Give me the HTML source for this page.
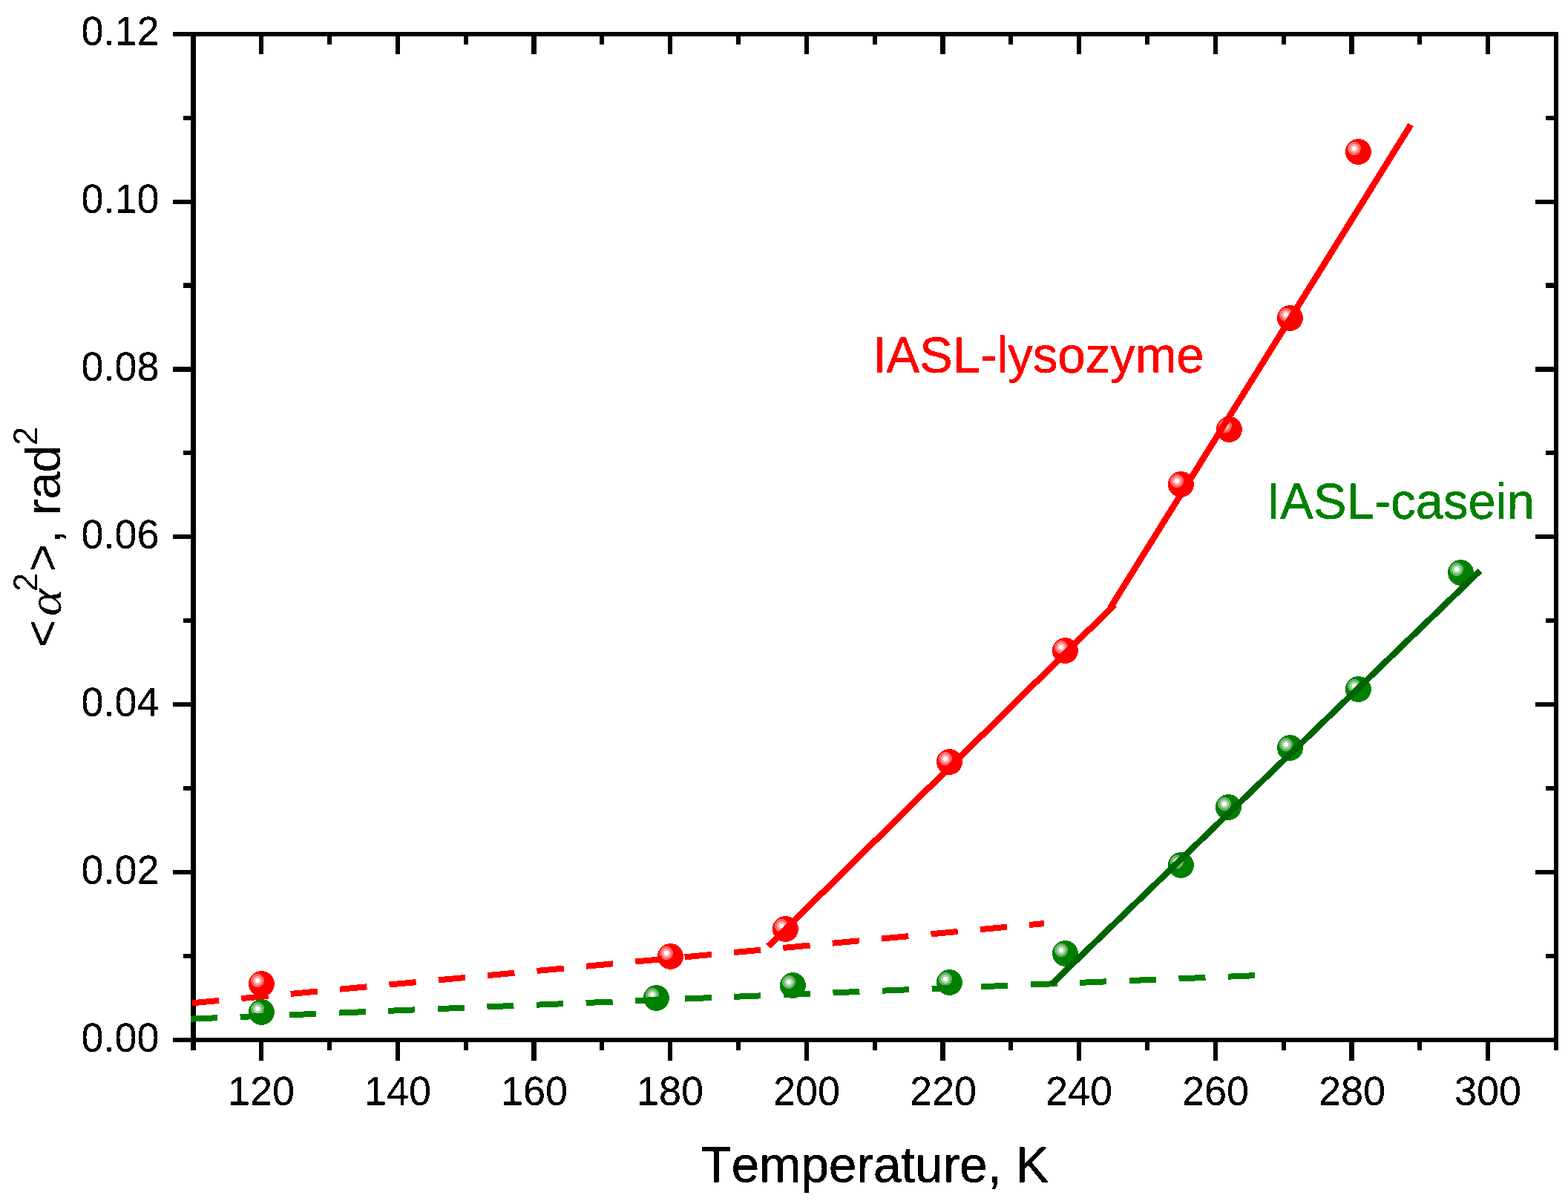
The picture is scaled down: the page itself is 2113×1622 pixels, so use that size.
<!DOCTYPE html>
<html lang="en"><head><meta charset="utf-8"><title>Mean-square angular amplitude vs temperature</title>
<style>
html,body{margin:0;padding:0;background:#fff;}
body{width:2113px;height:1622px;overflow:hidden;}
svg{display:block;}
text{font-family:"Liberation Sans",Arial,Helvetica,sans-serif;font-kerning:none;filter:url(#bin);}
.tk{font-size:54px;fill:#000;stroke:#000;stroke-width:0.2px;}
.tt{font-size:67px;fill:#000;}
.ax{fill:#000;shape-rendering:crispEdges;}
.al{font-family:"Liberation Serif","DejaVu Serif",serif;font-style:italic;}
</style></head><body>
<svg width="2113" height="1622" viewBox="0 0 2113 1622" role="img" aria-label="Mean-square angular amplitude versus temperature for IASL-lysozyme and IASL-casein">
<defs><filter id="bin" x="-5%" y="-30%" width="110%" height="160%" color-interpolation-filters="sRGB"><feComponentTransfer><feFuncA type="discrete" tableValues="0 1"/></feComponentTransfer></filter></defs>
<rect x="0" y="0" width="2113" height="1622" fill="#fff"/>
<g class="ax">
<rect x="233" y="43" width="1867" height="6"/>
<rect x="233" y="1398" width="1867" height="6"/>
<rect x="257" y="43" width="7" height="1372"/>
<rect x="2094" y="43" width="6" height="1372"/>
<rect x="349" y="1404" width="6" height="25"/>
<rect x="349" y="49" width="6" height="24"/>
<rect x="441" y="1404" width="6" height="11"/>
<rect x="441" y="49" width="6" height="11"/>
<rect x="533" y="1404" width="6" height="25"/>
<rect x="533" y="49" width="6" height="24"/>
<rect x="625" y="1404" width="6" height="11"/>
<rect x="625" y="49" width="6" height="11"/>
<rect x="716" y="1404" width="7" height="25"/>
<rect x="716" y="49" width="7" height="24"/>
<rect x="808" y="1404" width="6" height="11"/>
<rect x="808" y="49" width="6" height="11"/>
<rect x="900" y="1404" width="6" height="25"/>
<rect x="900" y="49" width="6" height="24"/>
<rect x="992" y="1404" width="6" height="11"/>
<rect x="992" y="49" width="6" height="11"/>
<rect x="1084" y="1404" width="6" height="25"/>
<rect x="1084" y="49" width="6" height="24"/>
<rect x="1176" y="1404" width="6" height="11"/>
<rect x="1176" y="49" width="6" height="11"/>
<rect x="1267" y="1404" width="7" height="25"/>
<rect x="1267" y="49" width="7" height="24"/>
<rect x="1359" y="1404" width="6" height="11"/>
<rect x="1359" y="49" width="6" height="11"/>
<rect x="1451" y="1404" width="6" height="25"/>
<rect x="1451" y="49" width="6" height="24"/>
<rect x="1543" y="1404" width="6" height="11"/>
<rect x="1543" y="49" width="6" height="11"/>
<rect x="1635" y="1404" width="6" height="25"/>
<rect x="1635" y="49" width="6" height="24"/>
<rect x="1727" y="1404" width="6" height="11"/>
<rect x="1727" y="49" width="6" height="11"/>
<rect x="1818" y="1404" width="7" height="25"/>
<rect x="1818" y="49" width="7" height="24"/>
<rect x="1910" y="1404" width="6" height="11"/>
<rect x="1910" y="49" width="6" height="11"/>
<rect x="2002" y="1404" width="6" height="25"/>
<rect x="2002" y="49" width="6" height="24"/>
<rect x="233" y="1398" width="24" height="6"/>
<rect x="2069" y="1398" width="25" height="6"/>
<rect x="247" y="1285" width="10" height="6"/>
<rect x="2083" y="1285" width="11" height="6"/>
<rect x="233" y="1172" width="24" height="6"/>
<rect x="2069" y="1172" width="25" height="6"/>
<rect x="247" y="1059" width="10" height="6"/>
<rect x="2083" y="1059" width="11" height="6"/>
<rect x="233" y="946" width="24" height="6"/>
<rect x="2069" y="946" width="25" height="6"/>
<rect x="247" y="833" width="10" height="6"/>
<rect x="2083" y="833" width="11" height="6"/>
<rect x="233" y="720" width="24" height="6"/>
<rect x="2069" y="720" width="25" height="6"/>
<rect x="247" y="607" width="10" height="6"/>
<rect x="2083" y="607" width="11" height="6"/>
<rect x="233" y="494" width="24" height="7"/>
<rect x="2069" y="494" width="25" height="7"/>
<rect x="247" y="381" width="10" height="7"/>
<rect x="2083" y="381" width="11" height="7"/>
<rect x="233" y="269" width="24" height="6"/>
<rect x="2069" y="269" width="25" height="6"/>
<rect x="247" y="156" width="10" height="6"/>
<rect x="2083" y="156" width="11" height="6"/>
<rect x="233" y="43" width="24" height="6"/>
<rect x="2069" y="43" width="25" height="6"/>
</g>
<g class="tk" text-anchor="middle">
<text transform="translate(352.00,1488.70) rotate(0.02) scale(1,1.04)">120</text>
<text transform="translate(536.00,1488.70) rotate(0.02) scale(1,1.04)">140</text>
<text transform="translate(720.00,1488.70) rotate(0.02) scale(1,1.04)">160</text>
<text transform="translate(903.00,1488.70) rotate(0.02) scale(1,1.04)">180</text>
<text transform="translate(1087.00,1488.70) rotate(0.02) scale(1,1.04)">200</text>
<text transform="translate(1271.00,1488.70) rotate(0.02) scale(1,1.04)">220</text>
<text transform="translate(1454.00,1488.70) rotate(0.02) scale(1,1.04)">240</text>
<text transform="translate(1638.00,1488.70) rotate(0.02) scale(1,1.04)">260</text>
<text transform="translate(1822.00,1488.70) rotate(0.02) scale(1,1.04)">280</text>
<text transform="translate(2005.00,1488.70) rotate(0.02) scale(1,1.04)">300</text>
</g>
<g class="tk" text-anchor="end">
<text transform="translate(214.50,1416.70) rotate(0.02) scale(1,1.04)">0.00</text>
<text transform="translate(214.50,1190.70) rotate(0.02) scale(1,1.04)">0.02</text>
<text transform="translate(214.50,964.70) rotate(0.02) scale(1,1.04)">0.04</text>
<text transform="translate(214.50,738.70) rotate(0.02) scale(1,1.04)">0.06</text>
<text transform="translate(214.50,512.70) rotate(0.02) scale(1,1.04)">0.08</text>
<text transform="translate(214.50,286.70) rotate(0.02) scale(1,1.04)">0.10</text>
<text transform="translate(214.50,60.70) rotate(0.02) scale(1,1.04)">0.12</text>
</g>
<text transform="translate(1178.80,1592.50) rotate(0.02) scale(1,1.02)" class="tt" text-anchor="middle" style="font-size:67.5px" stroke="#000" stroke-width="0.6">Temperature, K</text>
<g transform="translate(81,869) rotate(-90)">
<text transform="translate(-3.27,-1.86) rotate(0.02) scale(0.958,0.98)" class="tt">&lt;</text>
<text transform="translate(38.80,0.55) rotate(0.02) scale(1.053,0.9416)" class="tt al">α</text>
<text transform="translate(71.80,-30.93) rotate(0.02) scale(1,1.012)" style="font-size:45.7px">2</text>
<text transform="translate(99.00,-1.86) rotate(0.02) scale(0.958,0.98)" class="tt">&gt;</text>
<text class="tt" x="136.8 155.4 174.55 196.15 232.19" y="0">, rad</text>
<text transform="translate(268.80,-31.00) rotate(0.02) scale(1,1.012)" style="font-size:45.7px">2</text>
</g>
<g id="lysozyme" shape-rendering="crispEdges">
<g><circle cx="352.5" cy="1325.5" r="17.5" fill="#ff0000"/><circle cx="347.0" cy="1321.0" r="9" fill="#ff6666"/><circle cx="347.0" cy="1321.0" r="6" fill="#ffaaaa"/><circle cx="347.0" cy="1321.0" r="3" fill="#fffafa"/></g>
<g><circle cx="903.5" cy="1288.5" r="17.5" fill="#ff0000"/><circle cx="898.0" cy="1284.0" r="9" fill="#ff6666"/><circle cx="898.0" cy="1284.0" r="6" fill="#ffaaaa"/><circle cx="898.0" cy="1284.0" r="3" fill="#fffafa"/></g>
<g><circle cx="1058.5" cy="1251.5" r="17.5" fill="#ff0000"/><circle cx="1053.0" cy="1247.0" r="9" fill="#ff6666"/><circle cx="1053.0" cy="1247.0" r="6" fill="#ffaaaa"/><circle cx="1053.0" cy="1247.0" r="3" fill="#fffafa"/></g>
<g><circle cx="1279.5" cy="1026.5" r="17.5" fill="#ff0000"/><circle cx="1274.0" cy="1022.0" r="9" fill="#ff6666"/><circle cx="1274.0" cy="1022.0" r="6" fill="#ffaaaa"/><circle cx="1274.0" cy="1022.0" r="3" fill="#fffafa"/></g>
<g><circle cx="1435.5" cy="876.5" r="17.5" fill="#ff0000"/><circle cx="1430.0" cy="872.0" r="9" fill="#ff6666"/><circle cx="1430.0" cy="872.0" r="6" fill="#ffaaaa"/><circle cx="1430.0" cy="872.0" r="3" fill="#fffafa"/></g>
<g><circle cx="1591.5" cy="652.5" r="17.5" fill="#ff0000"/><circle cx="1586.0" cy="648.0" r="9" fill="#ff6666"/><circle cx="1586.0" cy="648.0" r="6" fill="#ffaaaa"/><circle cx="1586.0" cy="648.0" r="3" fill="#fffafa"/></g>
<g><circle cx="1656.5" cy="578.5" r="17.5" fill="#ff0000"/><circle cx="1651.0" cy="574.0" r="9" fill="#ff6666"/><circle cx="1651.0" cy="574.0" r="6" fill="#ffaaaa"/><circle cx="1651.0" cy="574.0" r="3" fill="#fffafa"/></g>
<g><circle cx="1738.5" cy="428.5" r="17.5" fill="#ff0000"/><circle cx="1733.0" cy="424.0" r="9" fill="#ff6666"/><circle cx="1733.0" cy="424.0" r="6" fill="#ffaaaa"/><circle cx="1733.0" cy="424.0" r="3" fill="#fffafa"/></g>
<g><circle cx="1830.5" cy="204.5" r="17.5" fill="#ff0000"/><circle cx="1825.0" cy="200.0" r="9" fill="#ff6666"/><circle cx="1825.0" cy="200.0" r="6" fill="#ffaaaa"/><circle cx="1825.0" cy="200.0" r="3" fill="#fffafa"/></g>
<line x1="259" y1="1351.3" x2="1407" y2="1244.1" stroke="#ff0000" stroke-width="8" stroke-dasharray="36.4 30.25"/>
<line x1="1035.3" y1="1274.7" x2="1502.2" y2="814.3" stroke="#ff0000" stroke-width="8.5"/>
<line x1="1495.8" y1="819.5" x2="1901.2" y2="168" stroke="#ff0000" stroke-width="8.5"/>
</g>
<g id="casein" shape-rendering="crispEdges">
<g><circle cx="352.5" cy="1363.5" r="17.5" fill="#008000"/><circle cx="347.0" cy="1359.0" r="9" fill="#66b366"/><circle cx="347.0" cy="1359.0" r="6" fill="#aad5aa"/><circle cx="347.0" cy="1359.0" r="3" fill="#fafdfa"/></g>
<g><circle cx="884.5" cy="1344.5" r="17.5" fill="#008000"/><circle cx="879.0" cy="1340.0" r="9" fill="#66b366"/><circle cx="879.0" cy="1340.0" r="6" fill="#aad5aa"/><circle cx="879.0" cy="1340.0" r="3" fill="#fafdfa"/></g>
<g><circle cx="1068.5" cy="1327.5" r="17.5" fill="#008000"/><circle cx="1063.0" cy="1323.0" r="9" fill="#66b366"/><circle cx="1063.0" cy="1323.0" r="6" fill="#aad5aa"/><circle cx="1063.0" cy="1323.0" r="3" fill="#fafdfa"/></g>
<g><circle cx="1279.5" cy="1323.5" r="17.5" fill="#008000"/><circle cx="1274.0" cy="1319.0" r="9" fill="#66b366"/><circle cx="1274.0" cy="1319.0" r="6" fill="#aad5aa"/><circle cx="1274.0" cy="1319.0" r="3" fill="#fafdfa"/></g>
<g><circle cx="1435.5" cy="1284.5" r="17.5" fill="#008000"/><circle cx="1430.0" cy="1280.0" r="9" fill="#66b366"/><circle cx="1430.0" cy="1280.0" r="6" fill="#aad5aa"/><circle cx="1430.0" cy="1280.0" r="3" fill="#fafdfa"/></g>
<g><circle cx="1591.5" cy="1165.5" r="17.5" fill="#008000"/><circle cx="1586.0" cy="1161.0" r="9" fill="#66b366"/><circle cx="1586.0" cy="1161.0" r="6" fill="#aad5aa"/><circle cx="1586.0" cy="1161.0" r="3" fill="#fafdfa"/></g>
<g><circle cx="1655.5" cy="1087.5" r="17.5" fill="#008000"/><circle cx="1650.0" cy="1083.0" r="9" fill="#66b366"/><circle cx="1650.0" cy="1083.0" r="6" fill="#aad5aa"/><circle cx="1650.0" cy="1083.0" r="3" fill="#fafdfa"/></g>
<g><circle cx="1738.5" cy="1007.5" r="17.5" fill="#008000"/><circle cx="1733.0" cy="1003.0" r="9" fill="#66b366"/><circle cx="1733.0" cy="1003.0" r="6" fill="#aad5aa"/><circle cx="1733.0" cy="1003.0" r="3" fill="#fafdfa"/></g>
<g><circle cx="1830.5" cy="928.5" r="17.5" fill="#008000"/><circle cx="1825.0" cy="924.0" r="9" fill="#66b366"/><circle cx="1825.0" cy="924.0" r="6" fill="#aad5aa"/><circle cx="1825.0" cy="924.0" r="3" fill="#fafdfa"/></g>
<g><circle cx="1968.5" cy="771.5" r="17.5" fill="#008000"/><circle cx="1963.0" cy="767.0" r="9" fill="#66b366"/><circle cx="1963.0" cy="767.0" r="6" fill="#aad5aa"/><circle cx="1963.0" cy="767.0" r="3" fill="#fafdfa"/></g>
<line x1="257" y1="1372.7" x2="1691" y2="1314.2" stroke="#008000" stroke-width="8" stroke-dasharray="36 30.63"/>
<line x1="1416.9" y1="1326.1" x2="1994.3" y2="769" stroke="#006400" stroke-width="8.3"/>
</g>
<text transform="translate(1175.80,501.60) rotate(0.02) scale(1,1.03)" style="font-size:67px" fill="#ff0000" stroke="#ff0000" stroke-width="0.6">IASL-lysozyme</text>
<text transform="translate(1706.60,698.60) rotate(0.02) scale(1,1.03)" style="font-size:67px" fill="#008000" stroke="#008000" stroke-width="0.6">IASL-casein</text>
</svg>
</body></html>
